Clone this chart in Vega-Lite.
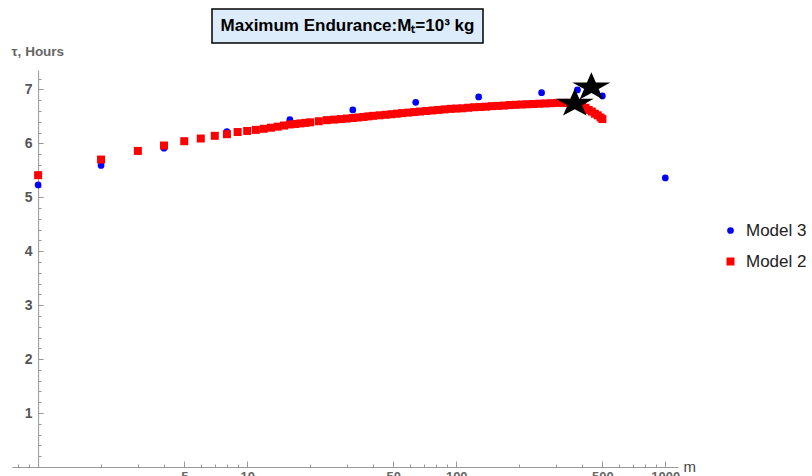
{
  "$schema": "https://vega.github.io/schema/vega-lite/v6.json",
  "padding": {"left": 11, "top": 8, "right": 0, "bottom": 0},
  "config": {"view": {"stroke": null}, "font": "Liberation Sans"},
  "spacing": 0,
  "datasets": {
    "points": [
      {"m": 1, "tau": 5.23, "model": "Model 3"},
      {"m": 2, "tau": 5.59, "model": "Model 3"},
      {"m": 4, "tau": 5.91, "model": "Model 3"},
      {"m": 8, "tau": 6.22, "model": "Model 3"},
      {"m": 16, "tau": 6.44, "model": "Model 3"},
      {"m": 32, "tau": 6.62, "model": "Model 3"},
      {"m": 64, "tau": 6.76, "model": "Model 3"},
      {"m": 128, "tau": 6.86, "model": "Model 3"},
      {"m": 256, "tau": 6.94, "model": "Model 3"},
      {"m": 380, "tau": 6.99, "model": "Model 3"},
      {"m": 500, "tau": 6.88, "model": "Model 3"},
      {"m": 1000, "tau": 5.36, "model": "Model 3"},
      {"m": 1, "tau": 5.41, "model": "Model 2"},
      {"m": 2, "tau": 5.70, "model": "Model 2"},
      {"m": 3, "tau": 5.86, "model": "Model 2"},
      {"m": 4, "tau": 5.96, "model": "Model 2"},
      {"m": 5, "tau": 6.04, "model": "Model 2"},
      {"m": 6, "tau": 6.09, "model": "Model 2"},
      {"m": 7, "tau": 6.14, "model": "Model 2"},
      {"m": 8, "tau": 6.17, "model": "Model 2"},
      {"m": 9, "tau": 6.21, "model": "Model 2"},
      {"m": 10, "tau": 6.23, "model": "Model 2"},
      {"m": 11, "tau": 6.25, "model": "Model 2"},
      {"m": 12, "tau": 6.27, "model": "Model 2"},
      {"m": 13, "tau": 6.29, "model": "Model 2"},
      {"m": 14, "tau": 6.31, "model": "Model 2"},
      {"m": 15, "tau": 6.33, "model": "Model 2"},
      {"m": 16, "tau": 6.35, "model": "Model 2"},
      {"m": 17, "tau": 6.36, "model": "Model 2"},
      {"m": 18, "tau": 6.37, "model": "Model 2"},
      {"m": 19, "tau": 6.38, "model": "Model 2"},
      {"m": 20, "tau": 6.39, "model": "Model 2"},
      {"m": 22, "tau": 6.41, "model": "Model 2"},
      {"m": 24, "tau": 6.43, "model": "Model 2"},
      {"m": 26, "tau": 6.44, "model": "Model 2"},
      {"m": 28, "tau": 6.45, "model": "Model 2"},
      {"m": 30, "tau": 6.46, "model": "Model 2"},
      {"m": 32, "tau": 6.47, "model": "Model 2"},
      {"m": 34, "tau": 6.48, "model": "Model 2"},
      {"m": 36, "tau": 6.49, "model": "Model 2"},
      {"m": 38, "tau": 6.50, "model": "Model 2"},
      {"m": 40, "tau": 6.51, "model": "Model 2"},
      {"m": 43, "tau": 6.52, "model": "Model 2"},
      {"m": 46, "tau": 6.53, "model": "Model 2"},
      {"m": 49, "tau": 6.54, "model": "Model 2"},
      {"m": 52, "tau": 6.55, "model": "Model 2"},
      {"m": 55, "tau": 6.56, "model": "Model 2"},
      {"m": 59, "tau": 6.57, "model": "Model 2"},
      {"m": 63, "tau": 6.58, "model": "Model 2"},
      {"m": 67, "tau": 6.59, "model": "Model 2"},
      {"m": 72, "tau": 6.60, "model": "Model 2"},
      {"m": 77, "tau": 6.61, "model": "Model 2"},
      {"m": 82, "tau": 6.62, "model": "Model 2"},
      {"m": 88, "tau": 6.63, "model": "Model 2"},
      {"m": 94, "tau": 6.64, "model": "Model 2"},
      {"m": 100, "tau": 6.645, "model": "Model 2"},
      {"m": 107, "tau": 6.65, "model": "Model 2"},
      {"m": 114, "tau": 6.66, "model": "Model 2"},
      {"m": 122, "tau": 6.67, "model": "Model 2"},
      {"m": 130, "tau": 6.675, "model": "Model 2"},
      {"m": 139, "tau": 6.68, "model": "Model 2"},
      {"m": 148, "tau": 6.69, "model": "Model 2"},
      {"m": 158, "tau": 6.695, "model": "Model 2"},
      {"m": 169, "tau": 6.70, "model": "Model 2"},
      {"m": 180, "tau": 6.71, "model": "Model 2"},
      {"m": 192, "tau": 6.715, "model": "Model 2"},
      {"m": 205, "tau": 6.72, "model": "Model 2"},
      {"m": 219, "tau": 6.725, "model": "Model 2"},
      {"m": 234, "tau": 6.73, "model": "Model 2"},
      {"m": 250, "tau": 6.735, "model": "Model 2"},
      {"m": 267, "tau": 6.74, "model": "Model 2"},
      {"m": 285, "tau": 6.745, "model": "Model 2"},
      {"m": 304, "tau": 6.75, "model": "Model 2"},
      {"m": 325, "tau": 6.75, "model": "Model 2"},
      {"m": 340, "tau": 6.75, "model": "Model 2"},
      {"m": 355, "tau": 6.745, "model": "Model 2"},
      {"m": 370, "tau": 6.74, "model": "Model 2"},
      {"m": 385, "tau": 6.72, "model": "Model 2"},
      {"m": 400, "tau": 6.69, "model": "Model 2"},
      {"m": 415, "tau": 6.66, "model": "Model 2"},
      {"m": 430, "tau": 6.62, "model": "Model 2"},
      {"m": 445, "tau": 6.59, "model": "Model 2"},
      {"m": 460, "tau": 6.55, "model": "Model 2"},
      {"m": 475, "tau": 6.52, "model": "Model 2"},
      {"m": 490, "tau": 6.48, "model": "Model 2"},
      {"m": 500, "tau": 6.45, "model": "Model 2"}
    ],
    "stars": [
      {"m": 443, "tau": 7.04},
      {"m": 369, "tau": 6.74}
    ]
  },
  "vconcat": [
    {
      "spacing": 0,
      "hconcat": [
        {
          "width": 199,
          "height": 34,
          "data": {"values": [{"t": ""}]},
          "mark": {"type": "text"},
          "encoding": {"text": {"field": "t"}}
        },
        {
          "width": 271,
          "height": 34,
          "view": {"stroke": "#000000", "strokeWidth": 1.5, "fill": "#ddecfb"},
          "data": {"values": [{"t": "Maximum Endurance:Mₜ=10³ kg"}]},
          "mark": {"type": "text", "font": "Liberation Sans", "fontWeight": "bold", "fontSize": 17, "color": "#000000"},
          "encoding": {"text": {"field": "t"}}
        }
      ]
    },
    {
      "width": 666,
      "height": 397,
      "resolve": {"axis": {"x": "independent", "y": "independent"}},
      "layer": [
        {
          "data": {"name": "points"},
          "mark": {"type": "point", "filled": true, "opacity": 1, "strokeWidth": 0},
          "encoding": {
            "x": {
              "field": "m",
              "type": "quantitative",
              "scale": {"type": "log", "domain": [0.75, 1150], "nice": false},
              "axis": {
                "orient": "bottom",
                "title": "m",
                "titleX": 671,
                "titleY": -1,
                "titleAlign": "left",
                "titleBaseline": "middle",
                "titleFontSize": 15,
                "titleFontWeight": "normal",
                "titleColor": "#444444",
                "values": [5, 10, 50, 100, 500, 1000],
                "format": "d",
                "labelFontSize": 13,
                "labelFontWeight": "bold",
                "labelColor": "#666666",
                "labelPadding": 9,
                "labelFlush": false,
                "labelOverlap": false,
                "tickSize": -6,
                "tickColor": "#999999",
                "domainColor": "#999999",
                "grid": false
              }
            },
            "y": {
              "field": "tau",
              "type": "quantitative",
              "scale": {"domain": [0, 7.36], "nice": false, "zero": false},
              "axis": {
                "orient": "left",
                "title": "τ, Hours",
                "titleAngle": 0,
                "titleX": -27,
                "titleY": -18.5,
                "titleAlign": "left",
                "titleBaseline": "middle",
                "titleFontSize": 13.5,
                "titleFontWeight": "bold",
                "titleColor": "#666666",
                "offset": -26.1,
                "values": [1, 2, 3, 4, 5, 6, 7],
                "labelFontSize": 14,
                "labelFontWeight": "bold",
                "labelColor": "#555555",
                "labelPadding": 11,
                "labelOverlap": false,
                "tickSize": -5,
                "tickColor": "#999999",
                "domainColor": "#999999",
                "grid": false
              }
            },
            "color": {
              "field": "model",
              "type": "nominal",
              "scale": {"domain": ["Model 3", "Model 2"], "range": ["#0000ff", "#ff0000"]},
              "legend": {
                "title": null,
                "orient": "none",
                "legendX": 710,
                "legendY": 213,
                "labelFontSize": 17,
                "labelColor": "#222222",
                "symbolSize": 40,
                "symbolStrokeWidth": 0,
                "rowPadding": 13,
                "labelOffset": 7,
                "padding": 0
              }
            },
            "shape": {
              "field": "model",
              "type": "nominal",
              "scale": {"domain": ["Model 3", "Model 2"], "range": ["circle", "square"]}
            },
            "size": {
              "field": "model",
              "type": "nominal",
              "scale": {"domain": ["Model 3", "Model 2"], "range": [45, 64]},
              "legend": null
            }
          }
        },
        {
          "data": {"name": "stars"},
          "mark": {
            "type": "point",
            "shape": "M0,-0.75L0.2245,-0.232L0.951,-0.232L0.3633,0.0885L0.588,0.607L0,0.2865L-0.588,0.607L-0.3633,0.0885L-0.951,-0.232L-0.2245,-0.232Z",
            "filled": true,
            "color": "#000000",
            "opacity": 1,
            "size": 1600,
            "strokeWidth": 0
          },
          "encoding": {
            "x": {
              "field": "m",
              "type": "quantitative",
              "axis": {
                "orient": "bottom",
                "title": null,
                "values": [0.8, 0.9, 2, 3, 4, 6, 7, 8, 9, 20, 30, 40, 60, 70, 80, 90, 200, 300, 400, 600, 700, 800, 900],
                "labels": false,
                "domain": false,
                "tickSize": -3,
                "tickColor": "#999999",
                "grid": false
              }
            },
            "y": {
              "field": "tau",
              "type": "quantitative",
              "axis": {
                "orient": "left",
                "title": null,
                "offset": -26.1,
                "values": [0.2, 0.4, 0.6, 0.8, 1.2, 1.4, 1.6, 1.8, 2.2, 2.4, 2.6, 2.8, 3.2, 3.4, 3.6, 3.8, 4.2, 4.4, 4.6, 4.8, 5.2, 5.4, 5.6, 5.8, 6.2, 6.4, 6.6, 6.8, 7.2],
                "labels": false,
                "domain": false,
                "tickSize": -3,
                "tickColor": "#999999",
                "grid": false
              }
            }
          }
        }
      ]
    }
  ]
}
